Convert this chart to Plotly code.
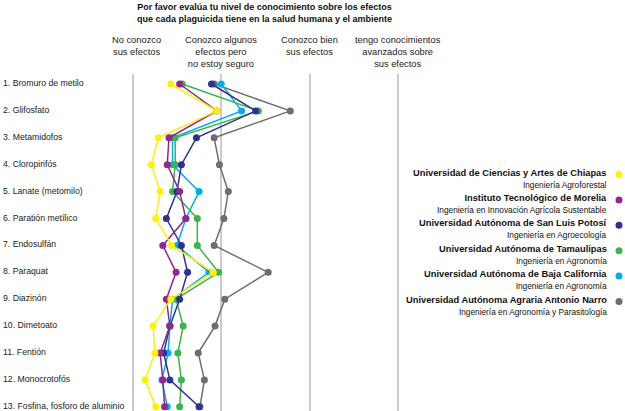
import plotly.graph_objects as go

# pesticides (rows, top to bottom)
pesticides = [
    "1. Bromuro de metilo",
    "2. Glifosfato",
    "3. Metamidofos",
    "4. Cloropirifós",
    "5. Lanate (metomilo)",
    "6. Paratión metílico",
    "7. Endosulfán",
    "8. Paraquat",
    "9. Diazinón",
    "10. Dimetoato",
    "11. Fentión",
    "12. Monocrotofós",
    "13. Fosfina, fosforo de aluminio",
]

# knowledge levels (columns)
levels = [
    "No conozco<br>sus efectos",
    "Conozco algunos<br>efectos pero<br>no estoy seguro",
    "Conozco bien<br>sus efectos",
    "tengo conocimientos<br>avanzados sobre<br>sus efectos",
]

universities = [
    "Universidad de Ciencias y Artes de Chiapas",
    "Instituto Tecnológico de Morelia",
    "Universidad Autónoma de San Luis Potosí",
    "Universidad Autónoma de Tamaulipas",
    "Universidad Autónoma de Baja California",
    "Universidad Autónoma Agraria Antonio Narro",
]
programs = [
    "Ingeniería Agroforestal",
    "Ingeniería en Innovación Agrícola Sustentable",
    "Ingeniería en Agroecología",
    "Ingeniería en Agronomía",
    "Ingeniería en Agronomía",
    "Ingeniería en Agronomía y Parasitología",
]
colors = ["#FFF200", "#92278F", "#2E3192", "#39B54A", "#00AEEF", "#6D6E71"]

chiapas = [1.43, 1.95, 1.29, 1.21, 1.31, 1.26, 1.44, 1.91, 1.43, 1.23, 1.25, 1.14, 1.26]
morelia = [1.53, 1.95, 1.41, 1.39, 1.53, 1.60, 1.34, 1.49, 1.38, 1.42, 1.31, 1.34, 1.36]
slp = [1.89, 2.39, 1.72, 1.55, 1.50, 1.38, 1.55, 1.62, 1.53, 1.42, 1.35, 1.42, 1.75]
tamaulipas = [1.56, 2.42, 1.48, 1.48, 1.45, 1.73, 1.73, 1.97, 1.49, 1.57, 1.51, 1.55, 1.53]
baja = [2.00, 2.23, 1.45, 1.45, 1.75, 1.60, 1.50, 1.86, 1.45, 1.42, 1.40, 1.33, 1.39]
narro = [1.92, 2.78, 1.92, 1.98, 2.08, 2.03, 1.92, 2.53, 2.04, 1.93, 1.74, 1.81, 1.76]

series = [chiapas, morelia, slp, tamaulipas, baja, narro]

FONT = "Liberation Sans, Arial, sans-serif"
W, H = 625, 411
LEFT, RIGHT, TOP = 115, 209, 74
PLOT_W, PLOT_H = W - LEFT - RIGHT, H - TOP


def paper_y(px):
    # pixel row (from figure top) -> paper y
    return 1 - (px - TOP) / PLOT_H


def paper_x(px):
    return (px - LEFT) / PLOT_W


fig = go.Figure()

# draw in reverse so yellow ends up on top
for name, vals, color in reversed(list(zip(universities, series, colors))):
    fig.add_trace(
        go.Scatter(
            x=vals,
            y=pesticides,
            mode="lines+markers",
            name=name,
            line=dict(color=color, width=1.5),
            marker=dict(color=color, size=7),
            showlegend=False,
        )
    )

annotations = [
    dict(
        x=paper_x(264), xref="paper", y=paper_y(0), yref="paper",
        text="<b>Por favor evalúa tu nivel de conocimiento sobre los efectos<br>"
        "que cada plaguicida tiene en la salud humana y el ambiente</b>",
        showarrow=False, xanchor="center", yanchor="top", align="center",
        font=dict(size=9, color="#111"),
    )
]
# row labels, left aligned at the figure edge
for p in pesticides:
    annotations.append(
        dict(
            x=paper_x(1), xref="paper", y=p, yref="y", text=p,
            showarrow=False, xanchor="left", align="left", yshift=1,
            font=dict(size=8.7, color="#222"),
        )
    )
# column headers
for i, lv in enumerate(levels):
    annotations.append(
        dict(
            x=i + 1, xref="x", y=paper_y(33), yref="paper", text=lv,
            showarrow=False, xanchor="center", yanchor="top", align="center",
            xshift=4 if i == 0 else 0,
            font=dict(size=9.3, color="#222"),
        )
    )
# custom legend with markers on the right
shapes = []
cx = paper_x(619)
for i, (u, pr, c) in enumerate(zip(universities, programs, colors)):
    ybold = 173 + i * 25.4
    annotations.append(
        dict(
            x=paper_x(609), xref="paper", y=paper_y(ybold + 5.5), yref="paper",
            text=f"<b>{u}</b><br><span style='font-size:8.3px'>{pr}</span>",
            showarrow=False, xanchor="right", yanchor="middle", align="right",
            font=dict(size=9.3, color="#111"),
        )
    )
    cy = paper_y(ybold + 1.5)
    shapes.append(
        dict(
            type="circle", xref="paper", yref="paper",
            x0=cx - 3.5 / PLOT_W, x1=cx + 3.5 / PLOT_W,
            y0=cy - 3.5 / PLOT_H, y1=cy + 3.5 / PLOT_H,
            fillcolor=c, line=dict(width=0),
        )
    )

fig.update_layout(
    width=W,
    height=H,
    margin=dict(l=LEFT, r=RIGHT, t=TOP, b=0),
    plot_bgcolor="white",
    paper_bgcolor="white",
    font=dict(family=FONT, color="#222"),
    annotations=annotations,
    shapes=shapes,
)
fig.update_xaxes(
    range=[0.8, 4.2],
    tickvals=[1, 2, 3, 4],
    showticklabels=False,
    showgrid=True,
    gridcolor="#CCCCCC",
    gridwidth=1.5,
    zeroline=False,
    showline=False,
)
fig.update_yaxes(
    type="category",
    range=[12.156, -0.372],
    showticklabels=False,
    showgrid=False,
    zeroline=False,
    showline=False,
)

fig.write_html(
    "out.html",
    config={"displayModeBar": False},
    post_script="document.body.style.margin='0';",
)
